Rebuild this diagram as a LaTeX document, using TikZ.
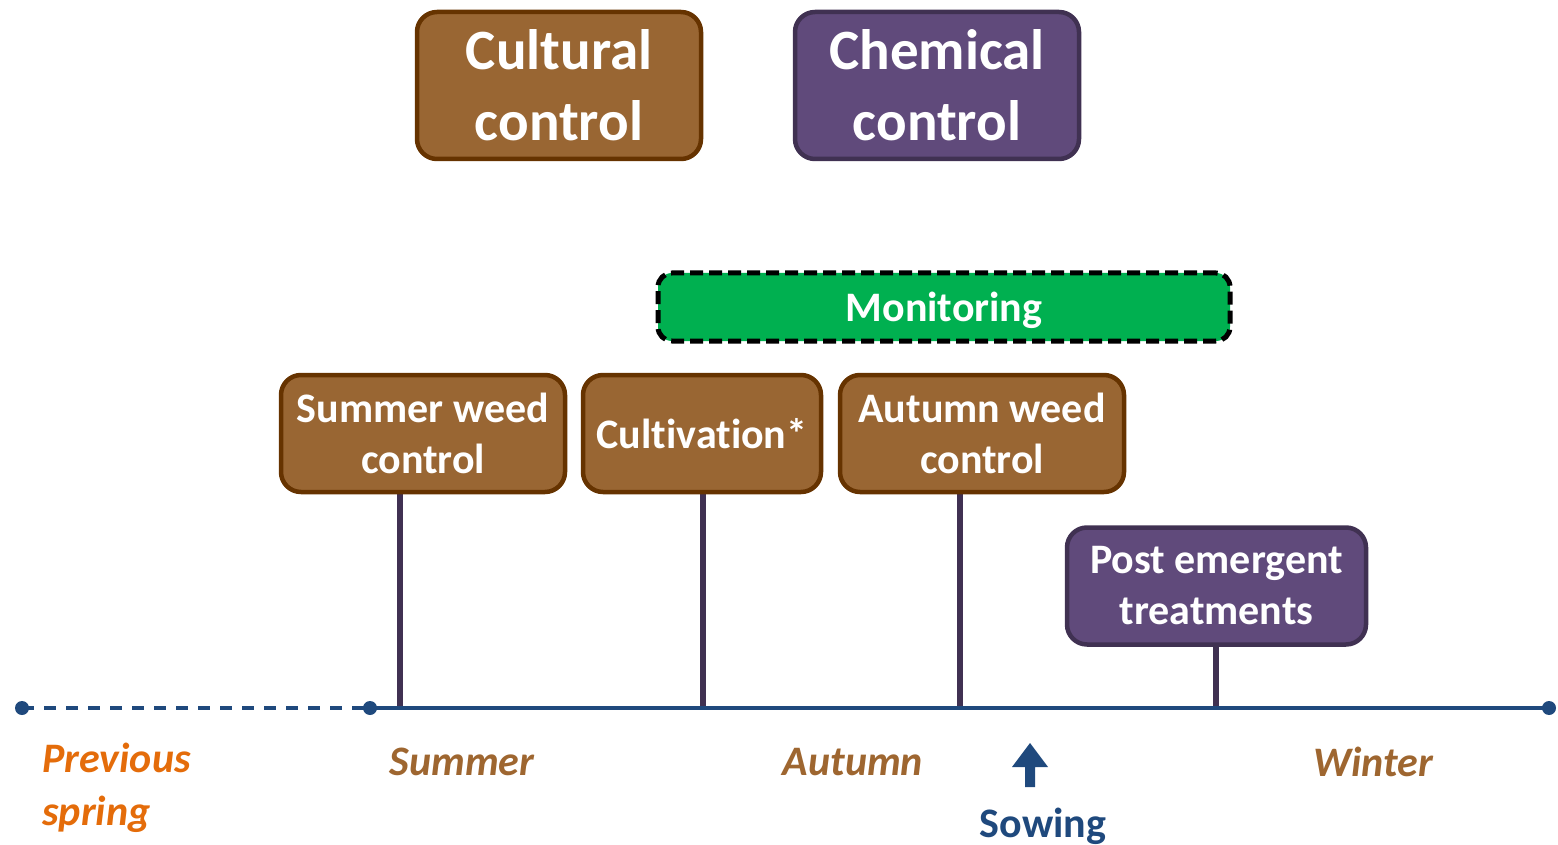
\documentclass[tikz,border=0pt]{standalone}
\usepackage{fontspec}
\setmainfont[Ligatures=NoCommon]{Carlito}
\usetikzlibrary{positioning,backgrounds}

\definecolor{cultfill}{RGB}{153,102,51}
\definecolor{cultline}{RGB}{102,51,0}
\definecolor{chemfill}{RGB}{96,74,123}
\definecolor{chemline}{RGB}{64,49,82}
\definecolor{monfill}{RGB}{0,176,80}
\definecolor{axisblue}{RGB}{31,73,125}
\definecolor{springorange}{RGB}{228,108,10}
\definecolor{seasonbrown}{RGB}{158,102,48}

\tikzset{
  box/.style={rounded corners=10pt, line width=2.25pt, text=white, align=center,
    inner sep=0pt, font=\bfseries\fontsize{21}{25.5}\selectfont},
  cultbox/.style={box, draw=cultline, fill=cultfill},
  chembox/.style={box, draw=chemline, fill=chemfill},
  bigbox/.style={minimum width=142pt, minimum height=73.5pt,
    font=\bfseries\fontsize{28.5}{35.5}\selectfont},
  smallbox/.style={minimum height=58.5pt},
  stem/.style={draw=chemline, line width=3pt},
  axis/.style={draw=axisblue, line width=2pt},
  season/.style={inner sep=0pt, text=seasonbrown, font=\bfseries\itshape\fontsize{21}{26.5}\selectfont}
}

\begin{document}
\begin{tikzpicture}[x=0.5pt, y=-0.5pt]
  \useasboundingbox (0,0) rectangle (1558,845);

  % control groups
  \node[cultbox, bigbox] (cultural) at (559,85.5) {Cultural\\control};
  \node[chembox, bigbox] (chemical) at (937,85.5) {Chemical\\control};

  % monitoring
  \node[box, draw=black, fill=monfill, line width=2.5pt, dash pattern=on 6.5pt off 3pt,
    minimum width=286pt, minimum height=34pt, rounded corners=7pt, text depth=0pt] (monitor) at (944,307) {Monitoring};

  % actions
  \node[cultbox, smallbox, minimum width=142pt] (sumweed) at (423,433.5) {Summer weed\\control};
  \node[cultbox, smallbox, minimum width=119pt] (cultiv) at (702,433.5) {Cultivation*};
  \node[cultbox, smallbox, minimum width=142pt] (autweed) at (982,433.5) {Autumn weed\\control};
  \node[chembox, smallbox, minimum width=149.5pt] (postem) at (1216.5,586) {Post emergent\\treatments};

  % timeline
  \coordinate (start) at (22,708);
  \coordinate (summer0) at (370,708);
  \coordinate (finish) at (1549,708);
  \coordinate (t1) at (400,708);
  \coordinate (t2) at (703,708);
  \coordinate (t3) at (960,708);
  \coordinate (t4) at (1216,708);

  \begin{scope}[on background layer]
    \draw[stem] (sumweed.south -| t1) -- (t1);
    \draw[stem] (cultiv.south -| t2) -- (t2);
    \draw[stem] (autweed.south -| t3) -- (t3);
    \draw[stem] (postem.south -| t4) -- (t4);
  \end{scope}

  \draw[axis, dash pattern=on 6pt off 5pt] (start) -- (summer0);
  \draw[axis] (summer0) -- (finish);
  \foreach \p in {start,summer0,finish}
    \fill[axisblue] (\p) circle (3.5pt);

  % seasons
  \node[season, text=springorange, align=left, anchor=west] (spring) at (42,788) {Previous\\spring};
  \node[season] (summer) at (462,762) {Summer};
  \node[season] (autumn) at (853,762) {Autumn};
  \node[season] (winter) at (1373,762) {Winter};

  % sowing
  \fill[axisblue] (1025,787) -- (1025,767) -- (1012,767) -- (1030,743)
    -- (1048,767) -- (1035,767) -- (1035,787) -- cycle;
  \node[inner sep=0pt, text=axisblue, font=\bfseries\fontsize{21}{26}\selectfont] (sowing) at (1043,826) {Sowing};
\end{tikzpicture}
\end{document}
